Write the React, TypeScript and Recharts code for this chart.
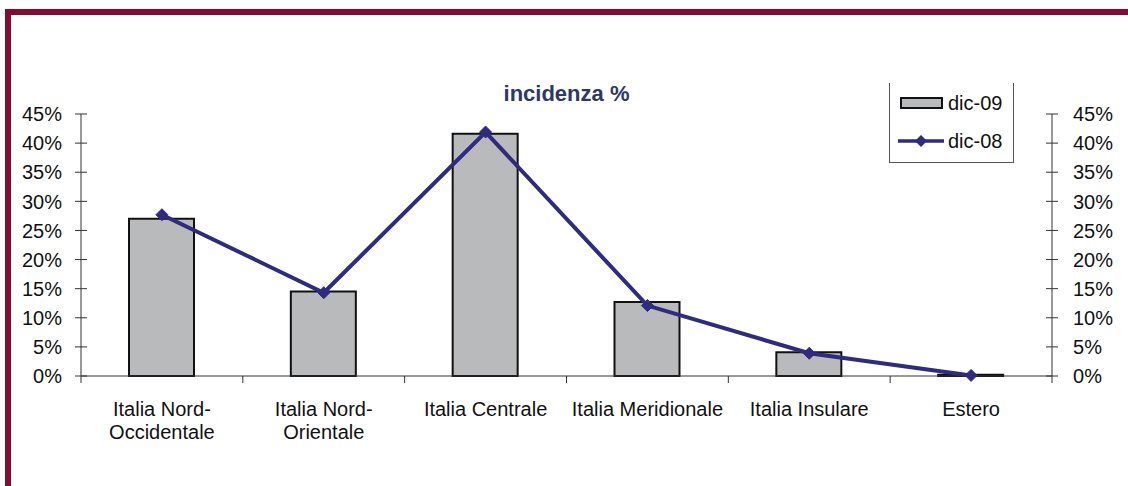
import React from 'react';
import { ComposedChart, Bar, Line, XAxis, YAxis, Legend } from 'recharts';

const categories = ['Italia Nord-\nOccidentale', 'Italia Nord-\nOrientale', 'Italia Centrale', 'Italia Meridionale', 'Italia Insulare', 'Estero'];
const dic09 = [27.0, 14.5, 41.6, 12.7, 4.1, 0.2];
const dic08 = [27.7, 14.3, 41.9, 12.1, 3.9, 0.1];
const yTicks = [0, 5, 10, 15, 20, 25, 30, 35, 40, 45];
const seriesNames = ['dic-09', 'dic-08'];
const titleText = 'incidenza %';

const data = categories.map((c, i) => ({ name: c, dic09: dic09[i], dic08: dic08[i] }));

const FONT = '"Liberation Sans", Arial, sans-serif';
const LINE_COLOR = '#2e2b80';
const BAR_FILL = '#b9babc';
const AXIS_COLOR = '#333';
const Y_TICK_SIZE = 6;
const LEFT_MARGIN = 13;
const RIGHT_MARGIN = 15;
const X_TICK_SIZE = 7;
const X_TICK_MARGIN = 20;

const LeftTick = (props: any) => {
  const { x, y, payload } = props;
  const ax = x + Y_TICK_SIZE + LEFT_MARGIN;
  return (
    <g>
      <line x1={ax - 6} x2={ax + 6} y1={y} y2={y} stroke={AXIS_COLOR} strokeWidth={1} />
      <text x={x} y={y} dy="0.36em" textAnchor="end" fontFamily={FONT} fontSize={20} fill="#111">
        {payload.value}%
      </text>
    </g>
  );
};

const RightTick = (props: any) => {
  const { x, y, payload } = props;
  const ax = x - Y_TICK_SIZE - RIGHT_MARGIN;
  return (
    <g>
      <line x1={ax - 6} x2={ax + 6} y1={y} y2={y} stroke={AXIS_COLOR} strokeWidth={1} />
      <text x={x} y={y} dy="0.36em" textAnchor="start" fontFamily={FONT} fontSize={20} fill="#111">
        {payload.value}%
      </text>
    </g>
  );
};

const XTick = (props: any) => {
  const { x, y, payload, index, visibleTicksCount, width } = props;
  const axisY = y - X_TICK_SIZE - X_TICK_MARGIN;
  const half = typeof payload.offset === 'number' && payload.offset > 0 ? payload.offset : width / visibleTicksCount / 2;
  const lines = String(payload.value).split('\n');
  const isLast = index === visibleTicksCount - 1;
  return (
    <g>
      <line x1={x - half} x2={x - half} y1={axisY} y2={axisY + X_TICK_SIZE} stroke={AXIS_COLOR} strokeWidth={1} />
      {isLast && (
        <line x1={x + half} x2={x + half} y1={axisY} y2={axisY + X_TICK_SIZE} stroke={AXIS_COLOR} strokeWidth={1} />
      )}
      <text x={x} y={y} textAnchor="middle" fontFamily={FONT} fontSize={20} fill="#111">
        {lines.map((l, i) => (
          <tspan key={i} x={x} dy={i === 0 ? 13 : 23}>
            {l}
          </tspan>
        ))}
      </text>
    </g>
  );
};

const Diamond = (props: any) => {
  const { cx, cy } = props;
  if (cx == null || cy == null) return null;
  const r = 6;
  return (
    <polygon
      points={`${cx},${cy - r} ${cx + r},${cy} ${cx},${cy + r} ${cx - r},${cy}`}
      fill={LINE_COLOR}
      stroke={LINE_COLOR}
    />
  );
};

const LegendContent = () => (
  <div
    style={{
      width: 125,
      height: 80,
      borderLeft: '1.5px solid #555',
      borderRight: '1.5px solid #555',
      borderBottom: '1.5px solid #555',
      boxSizing: 'border-box',
      position: 'relative',
      fontFamily: FONT,
      fontSize: 20,
      color: '#111',
    }}
  >
    <div style={{ position: 'absolute', left: 10, top: 10, display: 'flex', alignItems: 'center' }}>
      <div style={{ width: 43, height: 12, background: BAR_FILL, border: '2px solid #111', boxSizing: 'border-box' }} />
      <span style={{ marginLeft: 5, lineHeight: '20px' }}>{seriesNames[0]}</span>
    </div>
    <div style={{ position: 'absolute', left: 8, top: 48, display: 'flex', alignItems: 'center' }}>
      <svg width={46} height={14}>
        <line x1={0} x2={46} y1={7} y2={7} stroke={LINE_COLOR} strokeWidth={3.5} />
        <polygon points="23,1 29,7 23,13 17,7" fill={LINE_COLOR} />
      </svg>
      <span style={{ marginLeft: 4, lineHeight: '20px' }}>{seriesNames[1]}</span>
    </div>
  </div>
);

export default function App() {
  return (
    <div style={{ position: 'absolute', left: 0, top: 0, width: 1128, height: 486, background: '#fff', overflow: 'hidden' }}>
      <div style={{ position: 'absolute', left: 5, top: 9, width: 1123, height: 6, background: '#820d31' }} />
      <div style={{ position: 'absolute', left: 5, top: 9, width: 6, height: 477, background: '#820d31' }} />
      <div
        style={{
          position: 'absolute',
          left: 81,
          width: 971,
          top: 81,
          textAlign: 'center',
          fontFamily: FONT,
          fontWeight: 'bold',
          fontSize: 22,
          color: '#2d3868',
        }}
      >
        {titleText}
      </div>
      <div style={{ position: 'absolute', left: 0, top: 0 }}>
        <ComposedChart width={1128} height={486} data={data} margin={{ top: 114, right: 0, bottom: 30, left: 0 }} barCategoryGap={0}>
          <XAxis
            dataKey="name"
            xAxisId="x"
            height={80}
            interval={0}
            tickLine={false}
            tickSize={X_TICK_SIZE}
            tickMargin={X_TICK_MARGIN}
            axisLine={{ stroke: AXIS_COLOR, strokeWidth: 1 }}
            tick={<XTick />}
          />
          <YAxis
            yAxisId="left"
            orientation="left"
            width={81}
            domain={[0, 45]}
            ticks={yTicks}
            interval={0}
            tickLine={false}
            tickSize={Y_TICK_SIZE}
            tickMargin={LEFT_MARGIN}
            axisLine={{ stroke: AXIS_COLOR, strokeWidth: 1 }}
            tick={<LeftTick />}
          />
          <YAxis
            yAxisId="right"
            orientation="right"
            width={76}
            domain={[0, 45]}
            ticks={yTicks}
            interval={0}
            tickLine={false}
            tickSize={Y_TICK_SIZE}
            tickMargin={RIGHT_MARGIN}
            axisLine={{ stroke: AXIS_COLOR, strokeWidth: 1 }}
            tick={<RightTick />}
          />
          <Legend
            layout="vertical"
            align="center"
            verticalAlign="middle"
            wrapperStyle={{ left: 889, top: 83, width: 126, height: 81 }}
            content={<LegendContent />}
          />
          <Bar
            xAxisId="x"
            yAxisId="left"
            dataKey="dic09"
            name={seriesNames[0]}
            barSize={65}
            fill={BAR_FILL}
            stroke="#111"
            strokeWidth={2}
            isAnimationActive={false}
          />
          <Line
            xAxisId="x"
            yAxisId="right"
            dataKey="dic08"
            name={seriesNames[1]}
            type="linear"
            stroke={LINE_COLOR}
            strokeWidth={4}
            dot={<Diamond />}
            activeDot={false}
            isAnimationActive={false}
          />
        </ComposedChart>
      </div>
    </div>
  );
}
